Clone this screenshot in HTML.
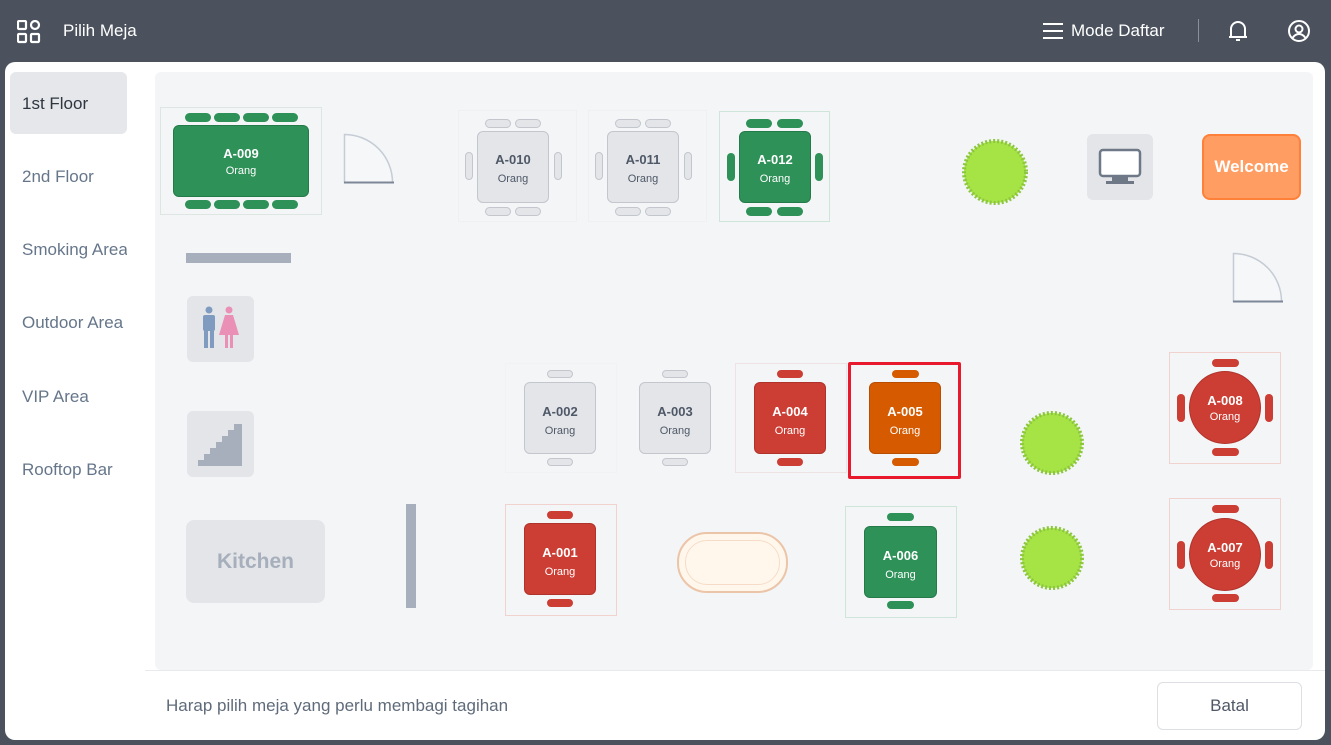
<!DOCTYPE html>
<html><head><meta charset="utf-8"><style>
*{box-sizing:border-box;margin:0;padding:0}
body{width:1331px;height:745px;background:#4b525d;font-family:"Liberation Sans",sans-serif;position:relative;overflow:hidden}
.a{position:absolute}
.panel{left:5px;top:62px;width:1320px;height:678px;background:#fff;border-radius:10px}
.map{left:155px;top:72px;width:1158px;height:598px;background:#f3f5f7;border-radius:6px}
.side{left:22px;font-size:17px;color:#66768a}
.t{position:absolute;border-radius:6px;text-align:center;color:#fff}
.t b{display:block;font-size:13px;font-weight:bold}
.t i{display:block;font-style:normal;font-size:11px;margin-top:6px}
.g{background:#2e9158;border:1px solid #257a49}
.gr{background:#e3e5e9;border:1px solid #c3c6cc;color:#4f5867}
.r{background:#cc3d33;border:1px solid #b0332b}
.o{background:#d65a00;border:1px solid #b84d00}
.c{position:absolute;border-radius:5px}
.cg{background:#2e9158}.cgr{background:#e3e5e9;border:1px solid #c3c6cc}.cr{background:#cc3d33}.co{background:#d65a00}
.bb{position:absolute;border:1px solid #dde6e3}
</style></head><body>
<svg class="a" style="left:17px;top:20px" width="24" height="24" viewBox="0 0 24 24" fill="none" stroke="#fff" stroke-width="2.2"><rect x="1" y="1" width="8" height="8" rx="1"/><rect x="1" y="14" width="8" height="8" rx="1"/><rect x="14" y="14" width="8" height="8" rx="1"/><circle cx="18" cy="5" r="4"/></svg>
<div class="a" style="left:63px;top:21px;color:#fff;font-size:17px">Pilih Meja</div>
<svg class="a" style="left:1043px;top:22px" width="20" height="18"><g stroke="#fff" stroke-width="2"><line x1="0" y1="2" x2="20" y2="2"/><line x1="0" y1="9" x2="20" y2="9"/><line x1="0" y1="16" x2="20" y2="16"/></g></svg>
<div class="a" style="left:1071px;top:21px;color:#fff;font-size:17px">Mode Daftar</div>
<div class="a" style="left:1198px;top:19px;width:1px;height:23px;background:#8a9099"></div>
<svg class="a" style="left:1227px;top:19px" width="22" height="24" viewBox="0 0 22 24" fill="none" stroke="#fff" stroke-width="2"><path d="M4 18V10a7 7 0 0 1 14 0v8zM2 18h18M9 21h4"/></svg>
<svg class="a" style="left:1287px;top:19px" width="24" height="24" viewBox="0 0 24 24" fill="none" stroke="#fff" stroke-width="2"><circle cx="12" cy="12" r="10"/><circle cx="12" cy="10" r="3.5"/><path d="M5.5 19c2-3 4-4 6.5-4s4.5 1 6.5 4"/></svg>

<div class="a panel"></div>
<div class="a" style="left:10px;top:72px;width:117px;height:62px;background:#e5e7eb;border-radius:6px"></div>
<div class="a side" style="top:94px;color:#2f3640">1st Floor</div>
<div class="a side" style="top:167px">2nd Floor</div>
<div class="a side" style="top:240px;width:105px;overflow:hidden;white-space:nowrap">Smoking Area</div>
<div class="a side" style="top:313px;width:105px;overflow:hidden;white-space:nowrap">Outdoor Area</div>
<div class="a side" style="top:387px">VIP Area</div>
<div class="a side" style="top:460px">Rooftop Bar</div>

<div class="a map"></div>
<div class="a" style="left:145px;top:670px;width:1180px;height:1px;background:#e8eaed"></div>
<div class="a" style="left:166px;top:696px;font-size:17px;color:#5f6b7a">Harap pilih meja yang perlu membagi tagihan</div>
<div class="a" style="left:1157px;top:682px;width:145px;height:48px;border:1px solid #dcdfe4;border-radius:6px;text-align:center;line-height:46px;font-size:17px;color:#4f5867">Batal</div>

<div class="bb" style="left:160px;top:107px;width:162px;height:108px"></div>
<div class="c cg" style="left:185px;top:113px;width:26px;height:9px"></div><div class="c cg" style="left:214px;top:113px;width:26px;height:9px"></div><div class="c cg" style="left:243px;top:113px;width:26px;height:9px"></div><div class="c cg" style="left:272px;top:113px;width:26px;height:9px"></div>
<div class="c cg" style="left:185px;top:200px;width:26px;height:9px"></div><div class="c cg" style="left:214px;top:200px;width:26px;height:9px"></div><div class="c cg" style="left:243px;top:200px;width:26px;height:9px"></div><div class="c cg" style="left:272px;top:200px;width:26px;height:9px"></div>
<div class="t g" style="left:173px;top:125px;width:136px;height:72px;padding-top:20px"><b>A-009</b><i style="margin-top:4px">Orang</i></div>

<svg class="a" style="left:343px;top:133px" width="52" height="52"><path d="M1.5 1.5 A48 48 0 0 1 49.5 49.5 L1.5 49.5Z" fill="#f6f7f9" stroke="#c6ccd5" stroke-width="1.5"/><line x1="1" y1="49.5" x2="51" y2="49.5" stroke="#7c8797" stroke-width="2"/></svg>

<div class="bb" style="left:458px;top:110px;width:119px;height:112px;border-color:#eef0f2"></div>
<div class="c cgr" style="left:485px;top:119px;width:26px;height:9px"></div><div class="c cgr" style="left:515px;top:119px;width:26px;height:9px"></div>
<div class="c cgr" style="left:485px;top:207px;width:26px;height:9px"></div><div class="c cgr" style="left:515px;top:207px;width:26px;height:9px"></div>
<div class="c cgr" style="left:465px;top:152px;width:8px;height:28px"></div><div class="c cgr" style="left:554px;top:152px;width:8px;height:28px"></div>
<div class="t gr" style="left:477px;top:131px;width:72px;height:72px;padding-top:20px"><b>A-010</b><i>Orang</i></div>
<div class="bb" style="left:588px;top:110px;width:119px;height:112px;border-color:#eef0f2"></div>
<div class="c cgr" style="left:615px;top:119px;width:26px;height:9px"></div><div class="c cgr" style="left:645px;top:119px;width:26px;height:9px"></div>
<div class="c cgr" style="left:615px;top:207px;width:26px;height:9px"></div><div class="c cgr" style="left:645px;top:207px;width:26px;height:9px"></div>
<div class="c cgr" style="left:595px;top:152px;width:8px;height:28px"></div><div class="c cgr" style="left:684px;top:152px;width:8px;height:28px"></div>
<div class="t gr" style="left:607px;top:131px;width:72px;height:72px;padding-top:20px"><b>A-011</b><i>Orang</i></div>
<div class="bb" style="left:719px;top:111px;width:111px;height:111px;border-color:#cfe5da"></div>
<div class="c cg" style="left:746px;top:119px;width:26px;height:9px"></div><div class="c cg" style="left:777px;top:119px;width:26px;height:9px"></div>
<div class="c cg" style="left:746px;top:207px;width:26px;height:9px"></div><div class="c cg" style="left:777px;top:207px;width:26px;height:9px"></div>
<div class="c cg" style="left:727px;top:153px;width:8px;height:28px"></div><div class="c cg" style="left:815px;top:153px;width:8px;height:28px"></div>
<div class="t g" style="left:739px;top:131px;width:72px;height:72px;padding-top:20px"><b>A-012</b><i>Orang</i></div>

<svg class="a" style="left:960px;top:137px" width="70" height="70"><circle cx="35" cy="35" r="31" fill="#a6e344" stroke="#8cc63f" stroke-width="4" stroke-dasharray="2 2"/></svg>
<svg class="a" style="left:1017px;top:408px" width="70" height="70"><circle cx="35" cy="35" r="30" fill="#a6e344" stroke="#8cc63f" stroke-width="4" stroke-dasharray="2 2"/></svg>
<svg class="a" style="left:1017px;top:523px" width="70" height="70"><circle cx="35" cy="35" r="30" fill="#a6e344" stroke="#8cc63f" stroke-width="4" stroke-dasharray="2 2"/></svg>

<div class="a" style="left:1087px;top:134px;width:66px;height:66px;background:#e3e5e9;border-radius:6px"></div>
<svg class="a" style="left:1098px;top:148px" width="44" height="38"><rect x="2" y="2" width="40" height="26" rx="3" fill="#fff" stroke="#6e7887" stroke-width="2.5"/><rect x="14" y="29" width="16" height="5" fill="#6e7887"/><rect x="8" y="33" width="28" height="3" fill="#6e7887"/></svg>
<div class="a" style="left:1202px;top:134px;width:99px;height:66px;background:#ff9d62;border:2px solid #ff8038;border-radius:8px;color:#fff;font-size:17px;font-weight:bold;text-align:center;line-height:62px">Welcome</div>

<div class="a" style="left:186px;top:253px;width:105px;height:10px;background:#a6afbb"></div>
<svg class="a" style="left:1232px;top:252px" width="52" height="52"><path d="M1.5 1.5 A48 48 0 0 1 49.5 49.5 L1.5 49.5Z" fill="#f6f7f9" stroke="#c6ccd5" stroke-width="1.5"/><line x1="1" y1="49.5" x2="51" y2="49.5" stroke="#7c8797" stroke-width="2"/></svg>

<div class="a" style="left:187px;top:296px;width:67px;height:66px;background:#e3e5e9;border-radius:6px"></div>
<svg class="a" style="left:200px;top:306px" width="42" height="46"><g fill="#7f9cc0"><circle cx="9" cy="4" r="3.5"/><rect x="3" y="9" width="12" height="16" rx="2"/><rect x="4" y="24" width="4" height="18"/><rect x="10" y="24" width="4" height="18"/></g><g fill="#ea8fb5"><circle cx="29" cy="4" r="3.5"/><path d="M25 9h8l6 20H19z"/><rect x="25" y="28" width="3" height="14"/><rect x="30" y="28" width="3" height="14"/></g></svg>
<div class="a" style="left:187px;top:411px;width:67px;height:66px;background:#e3e5e9;border-radius:6px"></div>
<svg class="a" style="left:198px;top:422px" width="46" height="46"><path d="M0 44 V38 H6 V32 H12 V26 H18 V20 H24 V14 H30 V8 H36 V2 H44 V44Z" fill="#a6afbb"/></svg>
<div class="a" style="left:186px;top:520px;width:139px;height:83px;background:#e3e5e9;border-radius:8px;color:#a6afbb;font-size:21px;font-weight:bold;text-align:center;line-height:83px">Kitchen</div>
<div class="a" style="left:406px;top:504px;width:10px;height:104px;background:#a6afbb"></div>

<div class="bb" style="left:505px;top:363px;width:112px;height:110px;border-color:#f0f2f4"></div>
<div class="c cgr" style="left:547px;top:370px;width:26px;height:8px"></div><div class="c cgr" style="left:547px;top:458px;width:26px;height:8px"></div>
<div class="t gr" style="left:524px;top:382px;width:72px;height:72px;padding-top:21px"><b>A-002</b><i>Orang</i></div>
<div class="c cgr" style="left:662px;top:370px;width:26px;height:8px"></div><div class="c cgr" style="left:662px;top:458px;width:26px;height:8px"></div>
<div class="t gr" style="left:639px;top:382px;width:72px;height:72px;padding-top:21px"><b>A-003</b><i>Orang</i></div>
<div class="bb" style="left:735px;top:363px;width:112px;height:110px;border-color:#efe2e2"></div>
<div class="c cr" style="left:777px;top:370px;width:26px;height:8px"></div><div class="c cr" style="left:777px;top:458px;width:26px;height:8px"></div>
<div class="t r" style="left:754px;top:382px;width:72px;height:72px;padding-top:21px"><b>A-004</b><i>Orang</i></div>
<div class="a" style="left:848px;top:362px;width:113px;height:117px;border:3px solid #e8192c;border-radius:2px"></div>
<div class="c co" style="left:892px;top:370px;width:27px;height:8px"></div><div class="c co" style="left:892px;top:458px;width:27px;height:8px"></div>
<div class="t o" style="left:869px;top:382px;width:72px;height:72px;padding-top:21px"><b>A-005</b><i>Orang</i></div>

<div class="bb" style="left:1169px;top:352px;width:112px;height:112px;border-color:#f1d2cf"></div>
<div class="c cr" style="left:1212px;top:359px;width:27px;height:8px"></div><div class="c cr" style="left:1212px;top:448px;width:27px;height:8px"></div>
<div class="c cr" style="left:1177px;top:394px;width:8px;height:28px"></div><div class="c cr" style="left:1265px;top:394px;width:8px;height:28px"></div>
<div class="t r" style="left:1189px;top:371px;width:72px;height:73px;border-radius:50%;padding-top:21px"><b>A-008</b><i style="margin-top:3px">Orang</i></div>
<div class="bb" style="left:1169px;top:498px;width:112px;height:112px;border-color:#f1d2cf"></div>
<div class="c cr" style="left:1212px;top:505px;width:27px;height:8px"></div><div class="c cr" style="left:1212px;top:594px;width:27px;height:8px"></div>
<div class="c cr" style="left:1177px;top:541px;width:8px;height:28px"></div><div class="c cr" style="left:1265px;top:541px;width:8px;height:28px"></div>
<div class="t r" style="left:1189px;top:518px;width:72px;height:73px;border-radius:50%;padding-top:21px"><b>A-007</b><i style="margin-top:3px">Orang</i></div>

<div class="bb" style="left:505px;top:504px;width:112px;height:112px;border-color:#f1d2cf"></div>
<div class="c cr" style="left:547px;top:511px;width:26px;height:8px"></div><div class="c cr" style="left:547px;top:599px;width:26px;height:8px"></div>
<div class="t r" style="left:524px;top:523px;width:72px;height:72px;padding-top:21px"><b>A-001</b><i>Orang</i></div>
<div class="a" style="left:677px;top:532px;width:111px;height:61px;background:#fff7ec;border:2px solid #ecc4a8;border-radius:30px"></div>
<div class="a" style="left:685px;top:540px;width:95px;height:45px;border:1px solid #f6dcc8;border-radius:22px"></div>
<div class="bb" style="left:845px;top:506px;width:112px;height:112px;border-color:#cfe5da"></div>
<div class="c cg" style="left:887px;top:513px;width:27px;height:8px"></div><div class="c cg" style="left:887px;top:601px;width:27px;height:8px"></div>
<div class="t g" style="left:864px;top:526px;width:73px;height:72px;padding-top:21px"><b>A-006</b><i>Orang</i></div>
</body></html>
